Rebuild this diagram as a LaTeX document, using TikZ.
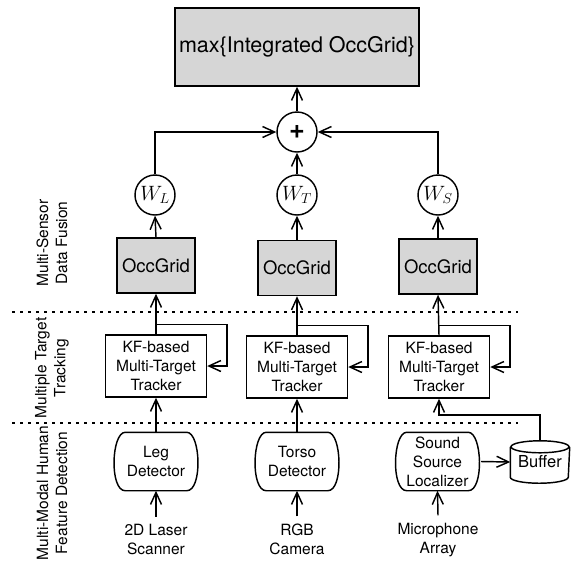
\documentclass[tikz,border=0pt]{standalone}
\usepackage{fontspec}
\setmainfont{TeX Gyre Heros}
\usetikzlibrary{arrows.meta,calc}
\definecolor{boxgray}{RGB}{214,214,214}
\newcommand\barrelshape[1]{%
  \draw ([xshift=13pt]#1.north west) -- ([xshift=-13pt]#1.north east)
    .. controls ([xshift=1pt]#1.north east) and ([xshift=3pt]#1.south east) .. ([xshift=-13pt]#1.south east)
    -- ([xshift=13pt]#1.south west)
    .. controls ([xshift=-3pt]#1.south west) and ([xshift=-1pt]#1.north west) .. cycle;}
\begin{document}
\begin{tikzpicture}[x=1pt,y=-1pt,
  line width=1.45pt,
  arr/.style={-{Straight Barb[length=12pt,width=11pt]}},
  txt/.style={font=\fontsize{15.5}{19}\selectfont},
  topbox/.style={draw, fill=boxgray, minimum width=244pt, minimum height=78pt, inner sep=0pt, font=\fontsize{21.5}{26}\selectfont},
  graybox/.style={draw, fill=boxgray, minimum width=78pt, minimum height=55pt, inner sep=0pt, font=\fontsize{18.5}{22}\selectfont},
  circ/.style={draw, circle, minimum size=40pt, inner sep=0pt, font=\fontsize{22}{24}\selectfont},
  kfbox/.style={txt, draw, minimum width=101pt, minimum height=62pt, align=center, inner sep=0pt},
  detbox/.style={txt, minimum width=86pt, minimum height=57pt, align=center, inner sep=0pt},
  sensor/.style={txt, align=center, inner sep=7pt},
  sidelab/.style={txt, rotate=90, align=center, inner sep=0pt},
  divider/.style={dash pattern=on 2.5pt off 5.5pt, line width=1.4pt}
]
\useasboundingbox (0,0) rectangle (572,566);

% top
\node[topbox] (top) at (297,47) {max\{Integrated OccGrid\}};
\node[circ, font=\fontsize{27}{27}\selectfont\bfseries] (plus) at (297,132) {+};

% weights
\node[circ] (wl) at (155,195) {$W_L$};
\node[circ] (wt) at (297,195) {$W_T$};
\node[circ] (ws) at (438,195) {$W_S$};

% occupancy grids
\node[graybox] (og1) at (156,265.5) {OccGrid};
\node[graybox] (og2) at (297,268) {OccGrid};
\node[graybox] (og3) at (438,266.5) {OccGrid};

% trackers
\node[kfbox] (kf1) at (156,366) {KF-based\\Multi-Target\\Tracker};
\node[kfbox] (kf2) at (297,367) {KF-based\\Multi-Target\\Tracker};
\node[kfbox] (kf3) at (439,367) {KF-based\\Multi-Target\\Tracker};

% detectors
\node[detbox] (d1) at (156,461.5) {Leg\\Detector};
\node[detbox] (d2) at (297,461.5) {Torso\\Detector};
\node[detbox] (d3) at (437.5,461.5) {Sound\\Source\\Localizer};
\barrelshape{d1}
\barrelshape{d2}
\barrelshape{d3}

% buffer
\node[txt, font=\fontsize{16.5}{19}\selectfont, minimum width=58pt, minimum height=41pt, inner sep=0pt] (buf) at (540,462) {\raisebox{-2pt}{Buffer}};
\draw ($(buf.north)+(0,6)$) ellipse [x radius=29pt, y radius=6pt];
\draw ($(buf.north west)+(0,6)$) -- ($(buf.south west)+(0,-6)$)
  arc[start angle=180, end angle=360, x radius=29pt, y radius=6pt]
  -- ($(buf.north east)+(0,6)$);

% sensors
\node[sensor] (s1) at (156,539.5) {2D Laser\\Scanner};
\node[sensor] (s2) at (297,539.5) {RGB\\Camera};
\node[sensor] (s3) at (438,540) {Microphone\\Array};

% side labels
\node[sidelab] (lab1) at (52,243) {Multi-Sensor\\Data Fusion};
\node[sidelab] (lab2) at (52,368) {Multiple Target\\Tracking};
\node[sidelab] (lab3) at (52,493) {Multi-Modal Human\\Feature Detection};

% dividers
\draw[divider] (12,312) -- (518,312);
\draw[divider] (12,423) -- (518,423);

% connectors
\draw[arr] (plus.north) -- (top.south);
\draw[arr] (wl.north) |- (plus.west);
\draw[arr] (ws.north) |- (plus.east);
\draw[arr] (wt.north) -- (plus.south);
\foreach \g/\w in {og1/wl, og2/wt, og3/ws} {
  \draw[arr] (\g.north) -- (\w.south);
}
\draw[arr] (kf1.north) -- (og1.south);
\draw[arr] (kf2.north) -- (og2.south);
\draw[arr] (kf3.north) -- (og3.south);
\foreach \k in {kf1, kf2, kf3} {
  \draw[arr] ([yshift=10pt]\k.north) -- ++(71,0) |- (\k.east);
}
\draw[arr] (d1.north) -- (kf1.south);
\draw[arr] (d2.north) -- (kf2.south);
\draw[arr] (d3.east) -- (buf.west);
\draw[arr] (buf.north) -- ++(0,-26) -| (kf3.south);
\draw[arr] (s1.north) -- (d1.south);
\draw[arr] (s2.north) -- (d2.south);
\draw[arr] (s3.north) -- (d3.south);
\end{tikzpicture}
\end{document}
